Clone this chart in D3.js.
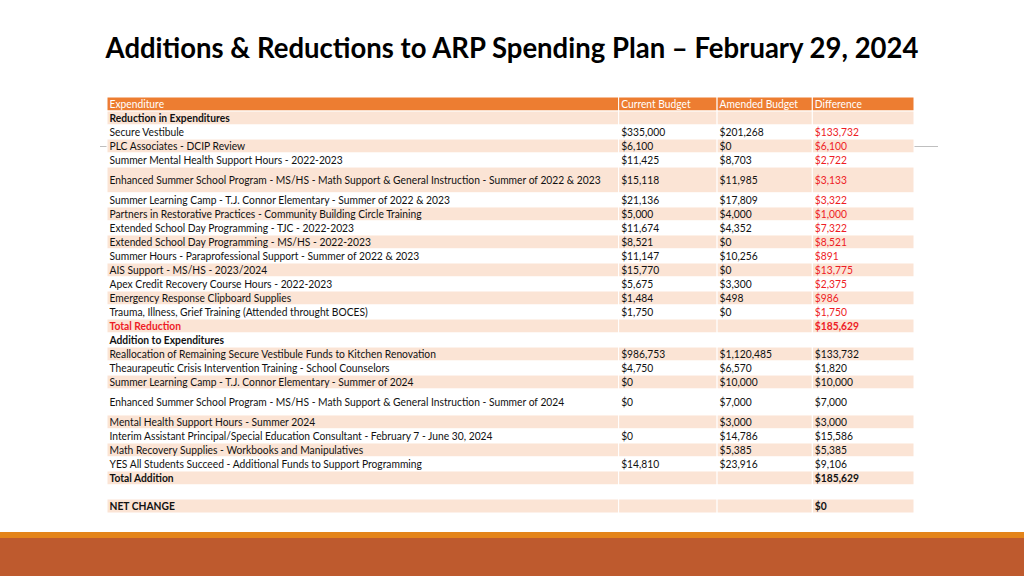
<!DOCTYPE html>
<html>
<head>
<meta charset="utf-8">
<script src="https://cdn.jsdelivr.net/npm/d3@7"></script>
<style>
body{margin:0;background:#fff;}
svg{display:block;font-family:Lato, "Open Sans", sans-serif;}
</style>
</head>
<body>
<div id="chart"></div>
<script>
// table data
const headers = ["Expenditure", "Current Budget", "Amended Budget", "Difference"];
const labels = [
"Reduction in Expenditures",
"Secure Vestibule",
"PLC Associates - DCIP Review",
"Summer Mental Health Support Hours - 2022-2023",
"Enhanced Summer School Program - MS/HS - Math Support & General Instruction - Summer of 2022 & 2023",
"Summer Learning Camp - T.J. Connor Elementary - Summer of 2022 & 2023",
"Partners in Restorative Practices - Community Building Circle Training",
"Extended School Day Programming - TJC - 2022-2023",
"Extended School Day Programming - MS/HS - 2022-2023",
"Summer Hours - Paraprofessional Support - Summer of 2022 & 2023",
"AIS Support - MS/HS - 2023/2024",
"Apex Credit Recovery Course Hours - 2022-2023",
"Emergency Response Clipboard Supplies",
"Trauma, Illness, Grief Training (Attended throught BOCES)",
"Total Reduction",
"Addition to Expenditures",
"Reallocation of Remaining Secure Vestibule Funds to Kitchen Renovation",
"Theaurapeutic Crisis Intervention Training - School Counselors",
"Summer Learning Camp - T.J. Connor Elementary - Summer of 2024",
"Enhanced Summer School Program - MS/HS - Math Support & General Instruction - Summer of 2024",
"Mental Health Support Hours - Summer 2024",
"Interim Assistant Principal/Special Education Consultant - February 7 - June 30, 2024",
"Math Recovery Supplies - Workbooks and Manipulatives",
"YES All Students Succeed - Additional Funds to Support Programming",
"Total Addition",
"",
"NET CHANGE"
];
const currentBudget = [null,335000,6100,11425,15118,21136,5000,11674,8521,11147,15770,5675,1484,1750,null,
  null,986753,4750,0,0,null,0,null,14810,null,null,null];
const amendedBudget = [null,201268,0,8703,11985,17809,4000,4352,0,10256,0,3300,498,0,null,
  null,1120485,6570,10000,7000,3000,14786,5385,23916,null,null,null];
const difference = [null,133732,6100,2722,3133,3322,1000,7322,8521,891,13775,2375,986,1750,185629,
  null,133732,1820,10000,7000,3000,15586,5385,9106,185629,null,0];
// row kinds: s = section heading, i = item, t = total, b = blank, n = net
const rowKinds = ["s","i","i","i","i","i","i","i","i","i","i","i","i","i","t",
  "s","i","i","i","i","i","i","i","i","t","b","n"];
const tallRows = [4, 19];
const redRows = d3.range(0, 15);

const W = 1024, H = 576;
const svg = d3.select("#chart").append("svg").attr("width", W).attr("height", H);

// decorative line behind table
svg.append("line").attr("x1", 100).attr("x2", 938).attr("y1", 146.5).attr("y2", 146.5)
  .attr("stroke", "#bfbfbf").attr("stroke-width", 1.2);

// title (narrowed horizontally to mimic a condensed face)
const title = svg.append("text").attr("text-anchor", "middle")
  .attr("font-weight", "bold").attr("fill", "#000").attr("font-size", 28)
  .text("Additions & Reductions to ARP Spending Plan \u2013 February 29, 2024");
const tsx = 813 / title.node().getComputedTextLength();
title.attr("transform", "translate(512,58) scale(" + tsx + ",1)");

// scales
const colEdges = [0, 0.634, 0.756, 0.874, 1];
const x = d3.scaleLinear().domain([0, 1]).range([107, 914]);
const units = [1].concat(labels.map((d, i) => tallRows.includes(i) ? 1.85 : 1));
const cum = [0];
units.forEach(u => cum.push(cum[cum.length - 1] + u));
const y = d3.scaleLinear().domain([0, cum[cum.length - 1]]).range([97, 513]);

const fmt = d3.format("$,");
const red = "#ee1c25";

// build row objects
const rows = [{label: headers[0], vals: headers.slice(1), kind: "h"}].concat(labels.map((l, i) => ({
  label: l,
  vals: [currentBudget[i], amendedBudget[i], difference[i]].map(v => v == null ? "" : fmt(v)),
  kind: rowKinds[i],
  red: redRows.includes(i)
})));

const g = svg.append("g");
// body font: fixed size, squeezed horizontally so the longest label fits
const bodyFs = 10.6;
const probe = g.append("text").attr("font-size", bodyFs).text(labels[4]);
const bsx = 491 / probe.node().getComputedTextLength();
probe.remove();

rows.forEach((r, ri) => {
  const y0 = y(cum[ri]), y1 = y(cum[ri + 1]);
  const fill = r.kind === "h" ? "#ed7d31" : (ri % 2 === 1 ? "#fbe4d5" : "#ffffff");
  for (let c = 0; c < 4; c++) {
    g.append("rect")
      .attr("x", x(colEdges[c])).attr("y", y0)
      .attr("width", x(colEdges[c + 1]) - x(colEdges[c])).attr("height", y1 - y0)
      .attr("fill", fill).attr("stroke", "#fff").attr("stroke-width", 1);
  }
  const texts = [r.label].concat(r.vals);
  texts.forEach((t, c) => {
    if (!t) return;
    let color = "#111";
    if (r.kind === "h") color = "#fff";
    else if (r.kind === "t" && r.red) color = red;
    else if (c === 3 && r.red) color = red;
    const bold = (r.kind === "s" || r.kind === "t" || r.kind === "n");
    g.append("text")
      .attr("transform", "translate(" + (x(colEdges[c]) + 2.5) + "," + ((y0 + y1) / 2) + ") scale(" + bsx + ",1)")
      .attr("dy", "0.35em")
      .attr("font-size", bodyFs)
      .attr("font-weight", bold ? "bold" : "normal")
      .attr("fill", color)
      .text(t);
  });
});

// footer bands
svg.append("rect").attr("x", 0).attr("y", 532).attr("width", W).attr("height", 6).attr("fill", "#e4841a");
svg.append("rect").attr("x", 0).attr("y", 538).attr("width", W).attr("height", 38).attr("fill", "#be5a2e");
</script>
</body>
</html>
